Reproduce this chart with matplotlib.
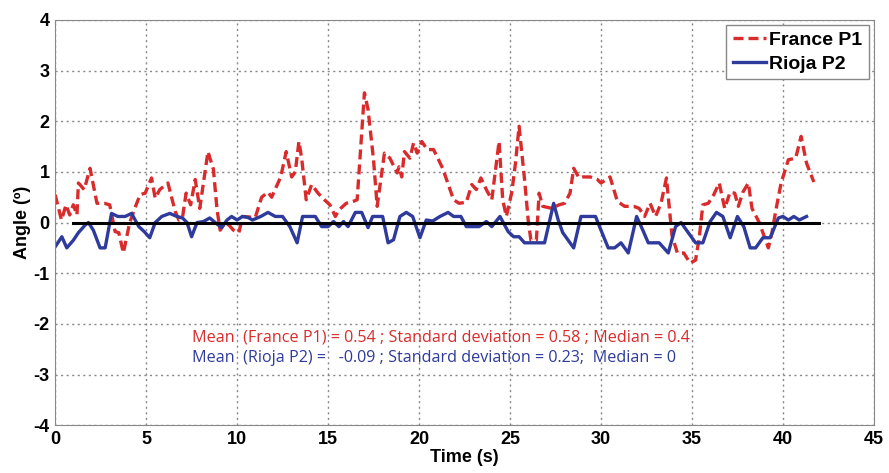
import matplotlib
matplotlib.use("Agg")
import matplotlib.pyplot as plt
import numpy as np

plt.rcParams['axes.unicode_minus'] = False

# France P1 (red, dashed)
t_france = [0.0, 0.35, 0.6, 0.8, 1.0, 1.2, 1.28, 1.6, 1.92, 2.3, 2.7, 3.0, 3.3, 3.5,
            3.75, 4.1, 4.4, 4.67, 4.95, 5.3, 5.5, 5.75, 6.2, 6.6, 6.8, 7.0, 7.2, 7.45,
            7.7, 7.95, 8.4, 8.7, 8.9, 9.07, 9.35, 9.55, 9.8, 10.1, 10.3, 11.0, 11.35,
            11.7, 11.9, 12.4, 12.7, 13.0, 13.2, 13.4, 13.55, 13.8, 14.1, 14.45, 14.8,
            15.1, 15.4, 15.6, 16.0, 16.4, 16.6, 17.0, 17.2, 17.5, 17.7, 18.1, 18.4,
            18.8, 18.9, 19.05, 19.2, 19.5, 19.7, 19.9, 20.15, 20.45, 20.8, 21.3, 21.9,
            22.2, 22.6, 22.9, 23.15, 23.4, 23.7, 24.0, 24.4, 24.6, 24.8, 25.1, 25.3,
            25.5, 25.8, 26.0, 26.15, 26.45, 26.6, 26.8, 27.3, 27.7, 28.0, 28.3, 28.5,
            28.8, 29.0, 29.4, 29.8, 30.0, 30.5, 30.9, 31.3, 31.8, 32.1, 32.4, 32.7,
            33.0, 33.3, 33.6, 33.9, 34.2, 34.55, 34.9, 35.2, 35.4, 35.6, 35.9, 36.2,
            36.5, 36.8, 37.1, 37.35, 37.55, 37.8, 38.1, 38.3, 38.7, 39.2, 39.4, 39.6,
            39.9, 40.3, 40.7, 41.0, 41.3, 41.7]
a_france = [0.55, 0.05, 0.35, 0.15, 0.35, 0.15, 0.78, 0.65, 1.07, 0.38, 0.38, 0.35, -0.18,
            -0.2, -0.6, 0.0, 0.3, 0.55, 0.58, 0.88, 0.48, 0.65, 0.78, 0.22, 0.05, 0.1,
            0.58, 0.35, 0.85, 0.28, 1.4, 1.05, 0.25, -0.15, 0.0, -0.05, -0.15, -0.2, 0.12,
            0.1, 0.5, 0.6, 0.5, 0.9, 1.4, 0.9, 1.0, 1.6, 1.27, 0.45, 0.75, 0.58, 0.45,
            0.35, 0.12, 0.25, 0.38, 0.42, 0.45, 2.56, 2.23, 1.24, 0.32, 1.37, 1.27, 0.98,
            1.1, 0.9, 1.4, 1.27, 1.57, 1.37, 1.6, 1.44, 1.44, 1.07, 0.45, 0.38, 0.4, 0.75,
            0.65, 0.88, 0.65, 0.45, 1.6, 0.45, 0.12, 0.6, 1.17, 1.9, 0.85, 0.05, -0.35,
            -0.35, 0.58, 0.32, 0.28, 0.35, 0.38, 0.58, 1.07, 0.88, 0.9, 0.9, 0.85, 0.78,
            0.9, 0.42, 0.32, 0.32, 0.28, 0.12, 0.38, 0.12, 0.38, 0.88, -0.25, -0.6, -0.6,
            -0.8, -0.74, -0.3, 0.35, 0.38, 0.55, 0.78, 0.28, 0.6, 0.58, 0.32, 0.6, 0.78,
            0.28, 0.0, -0.5, -0.2, 0.22, 0.78, 1.24, 1.27, 1.7, 1.17, 0.8]

# Rioja P2 (blue, solid)
t_rioja = [0.0, 0.37, 0.64, 1.0, 1.28, 1.65, 1.83, 2.1, 2.47, 2.75, 3.1, 3.45, 3.85, 4.2,
           4.6, 4.9, 5.2, 5.5, 5.86, 6.3, 6.7, 7.0, 7.25, 7.5, 7.8, 8.15, 8.5, 8.8, 9.15,
           9.45, 9.7, 10.0, 10.3, 10.6, 10.85, 11.3, 11.7, 12.1, 12.5, 12.9, 13.3, 13.6,
           14.0, 14.3, 14.65, 15.0, 15.3, 15.6, 15.85, 16.1, 16.5, 16.85, 17.2, 17.45,
           18.0, 18.3, 18.6, 18.95, 19.3, 19.65, 20.05, 20.4, 20.75, 21.15, 21.6, 21.9,
           22.3, 22.6, 23.3, 23.7, 24.0, 24.45, 24.9, 25.2, 25.5, 25.8, 26.9, 27.4, 27.65,
           27.9, 28.5, 28.9, 29.7, 30.0, 30.4, 30.75, 31.1, 31.5, 31.96, 32.3, 32.6, 33.2,
           33.7, 34.1, 34.4, 34.8, 35.2, 35.6, 36.0, 36.35, 36.7, 37.1, 37.5, 37.85, 38.2,
           38.5, 38.9, 39.3, 39.75, 40.0, 40.3, 40.6, 40.9, 41.3]
a_rioja = [-0.48, -0.28, -0.5, -0.35, -0.2, -0.05, 0.0, -0.15, -0.5, -0.5, 0.18, 0.12,
           0.12, 0.18, -0.08, -0.18, -0.3, 0.0, 0.12, 0.18, 0.12, 0.09, 0.0, -0.28, 0.0,
           0.02, 0.09, 0.0, -0.1, 0.05, 0.12, 0.05, 0.12, 0.1, 0.05, 0.12, 0.2, 0.12,
           0.12, -0.08, -0.4, 0.12, 0.12, 0.12, -0.08, -0.08, 0.02, -0.08, 0.02, -0.08,
           0.2, 0.2, -0.1, 0.12, 0.12, -0.4, -0.34, 0.12, 0.2, 0.12, -0.3, 0.05, 0.03,
           0.12, 0.2, 0.12, 0.12, -0.08, -0.08, 0.02, -0.08, 0.12, -0.18, -0.28, -0.28,
           -0.4, -0.4, 0.38, 0.05, -0.2, -0.5, 0.12, 0.12, -0.15, -0.5, -0.5, -0.4, -0.6,
           0.12, -0.15, -0.4, -0.4, -0.6, -0.08, 0.0, -0.2, -0.4, -0.4, 0.02, 0.2, 0.12,
           -0.3, 0.12, -0.08, -0.5, -0.5, -0.3, -0.3, 0.09, 0.12, 0.05, 0.12, 0.05, 0.12]

stats_france = "Mean  (France P1) = 0.54 ; Standard deviation = 0.58 ; Median = 0.4"
stats_rioja = "Mean  (Rioja P2) =   -0.09 ; Standard deviation = 0.23;  Median = 0"

red = "#d92b2b"
blue = "#2e3b9c"
bold_font = ["Liberation Sans Narrow", "Liberation Sans"]

fig = plt.figure(figsize=(8.89, 4.73), dpi=100)
ax = fig.add_axes([0.062, 0.101, 0.921, 0.857])

ax.plot(t_france, a_france, color=red, lw=2.4, ls=(0, (3, 1.5)), label="France P1")
ax.plot(t_rioja, a_rioja, color=blue, lw=2.4, label="Rioja P2")
ax.plot([1, 42], [0, 0], color="black", lw=2.2)

ax.set_xlim(0, 45)
ax.set_ylim(-4, 4)
ax.set_xticks(np.arange(0, 46, 5))
ax.set_yticks(np.arange(-4, 5, 1))
ax.grid(True, color="#888888", ls=(0, (1.5, 2.5)), lw=1.0)
for s in ax.spines.values():
    s.set_color("#888888")
ax.tick_params(length=0, pad=4)

for lab in ax.get_xticklabels() + ax.get_yticklabels():
    lab.set_fontfamily(bold_font)
    lab.set_fontweight("bold")
    lab.set_fontsize(13)

ax.set_xlabel("Time (s)", fontsize=13, fontweight="bold", family=bold_font, labelpad=1)
ax.set_ylabel("Angle (º)", fontsize=13, fontweight="bold", family=bold_font, labelpad=2)

ax.text(7.5, -2.26, stats_france, color=red, fontsize=11.6, family="Open Sans", va="center")
ax.text(7.5, -2.68, stats_rioja, color=blue, fontsize=11.6, family="Open Sans", va="center")

leg = ax.legend(loc="upper right", handlelength=1.7, handletextpad=0.15, borderpad=0.35,
                labelspacing=0.3, borderaxespad=0.25, fancybox=False, framealpha=1,
                prop=dict(family="Liberation Sans", weight="bold", size=14))
leg.get_frame().set_edgecolor("#888888")
leg.get_frame().set_linewidth(1.0)

fig.savefig("out.png", dpi=100)
